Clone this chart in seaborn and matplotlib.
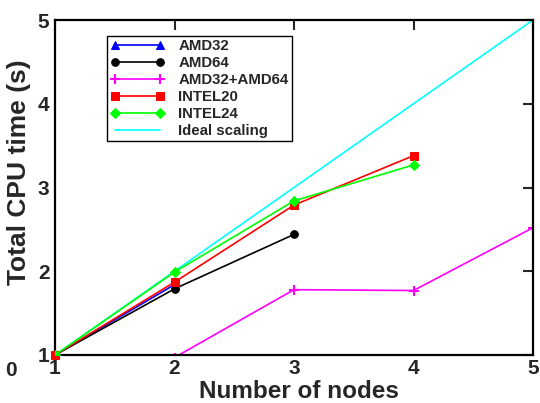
import matplotlib
matplotlib.use("Agg")
import matplotlib.pyplot as plt
import seaborn as sns

# ---- data ----
amd32_x = [1, 2]
amd32_y = [1.0, 1.84]
amd64_x = [1, 2, 3]
amd64_y = [1.0, 1.79, 2.44]
mix_x = [2, 3, 4, 5]
mix_y = [0.97, 1.78, 1.77, 2.52]
intel20_x = [1, 2, 3, 4]
intel20_y = [1.0, 1.87, 2.79, 3.38]
intel24_x = [1, 2, 3, 4]
intel24_y = [1.0, 1.99, 2.84, 3.27]
ideal_x = [1, 5]
ideal_y = [1, 5]
xticks = [1, 2, 3, 4, 5]
yticks = [1, 2, 3, 4, 5]

sns.set_style("white")
plt.rcParams['font.family'] = ['Liberation Sans', 'DejaVu Sans']
plt.rcParams['font.weight'] = 'bold'

fig = plt.figure(figsize=(5.4, 4.03), dpi=100)
ax = fig.add_axes([55/540, 48/403, 478/540, 335/403])

lw = 1.2
sns.lineplot(x=amd32_x, y=amd32_y, color='#0000FF', marker='^', markersize=6,
             markeredgecolor='#0000FF', linewidth=lw, label='AMD32', ax=ax)
sns.lineplot(x=amd64_x, y=amd64_y, color='black', marker='o', markersize=5.5,
             markeredgecolor='black', linewidth=lw, label='AMD64', ax=ax)
sns.lineplot(x=mix_x, y=mix_y, color='#FF00FF', marker='+', markersize=7,
             markeredgecolor='#FF00FF', markeredgewidth=1.5, linewidth=lw,
             label='AMD32+AMD64', ax=ax)
sns.lineplot(x=intel20_x, y=intel20_y, color='#FF0000', marker='s', markersize=5.5,
             markeredgecolor='#FF0000', linewidth=lw, label='INTEL20', ax=ax,
             clip_on=False, zorder=5)
sns.lineplot(x=intel24_x, y=intel24_y, color='#00FF00', marker='D', markersize=4.8,
             markeredgecolor='#00FF00', linewidth=lw, label='INTEL24', ax=ax,
             zorder=6)
sns.lineplot(x=ideal_x, y=ideal_y, color='#00FFFF', linewidth=lw,
             label='Ideal scaling', ax=ax)

ax.set_xlim(1, 5)
ax.set_ylim(1, 5)
ax.set_xticks(xticks)
ax.set_yticks(yticks)
ax.tick_params(direction='in', length=7, width=1.5, top=True, right=True,
               labelsize=15, pad=4)
ax.tick_params(axis='x', pad=3)
for lab in ax.get_xticklabels() + ax.get_yticklabels():
    lab.set_fontweight('bold')
for sp in ax.spines.values():
    sp.set_visible(True)
    sp.set_linewidth(1.6)
    sp.set_color('black')

ax.set_xlabel('Number of nodes', fontsize=17.5, fontweight='bold')
ax.set_ylabel('Total CPU time (s)', fontsize=19, fontweight='bold')
ax.xaxis.set_label_coords(0.51, -0.074)
ax.yaxis.set_label_coords(-0.05, 0.545)

leg = ax.legend(loc='upper left', bbox_to_anchor=(107/540, 1 - 36/403),
                bbox_transform=fig.transFigure, numpoints=2, handlelength=3.6,
                handletextpad=0.95, fancybox=False, framealpha=1,
                edgecolor='black', prop={'size': 10.8, 'weight': 'bold'},
                labelspacing=0.2, borderpad=0.2, borderaxespad=0)
leg.get_frame().set_linewidth(1.0)
leg.set_zorder(10)

fig.text(5/540, 1 - 371/403, '0', fontsize=15, fontweight='bold',
         ha='left', va='center')

fig.savefig('out.png', dpi=100)
